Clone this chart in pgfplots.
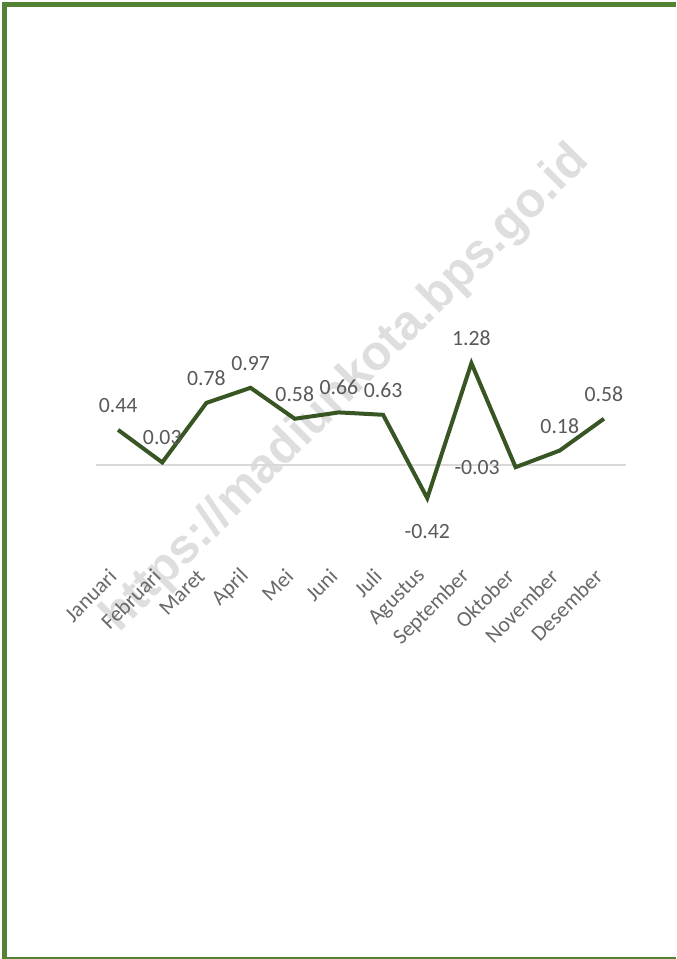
\documentclass[border=0pt]{standalone}
\usepackage{fontspec}
\setmainfont{Carlito}
\newfontfamily\wmfont{Liberation Sans}
\usepackage{pgfplots}
\pgfplotsset{compat=1.18}
\definecolor{framegreen}{RGB}{84,130,53}
\definecolor{linegreen}{RGB}{55,86,35}
\definecolor{labelgray}{RGB}{89,89,89}
\definecolor{tickgray}{RGB}{105,105,105}
\definecolor{zerogray}{RGB}{217,217,217}

\begin{document}
\begin{tikzpicture}[x=0.4pt,y=-0.4pt]
% page and green frame
\fill[white] (0,0) rectangle (676,959);
\fill[framegreen] (2,2) rectangle (676,7.5);
\fill[framegreen] (2,2) rectangle (7,959);
\fill[framegreen] (2,956.5) rectangle (676,959);
% watermark
\node[rotate=45,text=black!13,font=\wmfont\bfseries\fontsize{19.5pt}{20pt}\selectfont] at (346,389) {https://madiunkota.bps.go.id};
\begin{axis}[at={(38.4pt,-228.8pt)},anchor=south west,scale only axis,
  width=212pt,height=106.4pt,
  xmin=-0.5,xmax=11.5,ymin=-1.35,ymax=2,
  axis line style={draw=none},
  ytick=\empty,
  xtick={0,...,11},
  xticklabels={Januari,Februari,Maret,April,Mei,Juni,Juli,Agustus,September,Oktober,November,Desember},
  xtick style={draw=none},
  xticklabel style={rotate=45,anchor=east,inner sep=0pt,xshift=-1.6pt,yshift=1.2pt,text=tickgray,font=\fontsize{8.7pt}{9pt}\selectfont},
  extra y ticks={0},extra y tick labels={},
  extra y tick style={grid=major,major grid style={draw=zerogray,line width=0.6pt},major tick length=0pt},
  clip=false,
  nodes near coords,
  every node near coord/.append style={text=labelgray,font=\fontsize{8.7pt}{9pt}\selectfont,/pgf/number format/fixed,/pgf/number format/precision=2,/pgf/number format/fixed zerofill,/pgf/number format/assume math mode=true},
  ]
\addplot[linegreen,line width=1.6pt,mark=none,nodes near coords=\empty] coordinates {
  (0,0.44) (1,0.03) (2,0.78) (3,0.97) (4,0.58) (5,0.66) (6,0.63) (7,-0.42) (8,1.28) (9,-0.03) (10,0.18) (11,0.58)};
% labels above
\addplot[draw=none,mark=none,every node near coord/.append style={anchor=south,yshift=3.4pt}] coordinates {
  (0,0.44) (1,0.03) (2,0.78) (3,0.97) (4,0.58) (5,0.66) (6,0.63) (8,1.28) (10,0.18) (11,0.58)};
% label below
\addplot[draw=none,mark=none,every node near coord/.append style={anchor=north,yshift=-6.8pt}] coordinates {(7,-0.42)};
% label left
\addplot[draw=none,mark=none,every node near coord/.append style={anchor=east,xshift=-2.8pt}] coordinates {(9,-0.03)};
\end{axis}
\end{tikzpicture}
\end{document}
